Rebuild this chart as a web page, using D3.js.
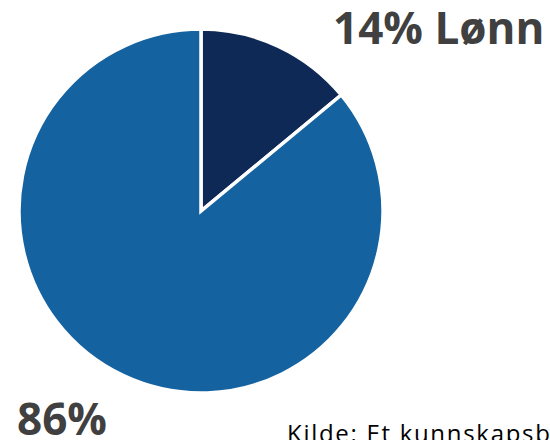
<!DOCTYPE html>
<html><head><meta charset="utf-8">
<script src="https://cdn.jsdelivr.net/npm/d3@7"></script>
<style>html,body{margin:0;padding:0;background:#fff;overflow:hidden}</style>
</head><body>
<svg id="c" width="550" height="440"></svg>
<script>
const categories = ["Lønn", "Annet"];
const values = [14, 86];
const labels = ["14% Lønn", "86%"];
const colors = ["#0f2956", "#1462a0"];
const source = "Kilde: Et kunnskapsbasert Norge";

const svg = d3.select("#c");
const cx = 201, cy = 211, r = 182;
const pie = d3.pie().sort(null).value(d => d)(values);
const arc = d3.arc().innerRadius(0).outerRadius(r);
const g = svg.append("g").attr("transform", `translate(${cx},${cy})`);
g.selectAll("path").data(pie).join("path")
  .attr("d", arc)
  .attr("fill", (d, i) => colors[i])
  .attr("stroke", "#fff").attr("stroke-width", 3.5).attr("stroke-linejoin", "miter");

const font = "'Open Sans', sans-serif";
svg.append("text").attr("x", 333).attr("y", 44)
  .attr("font-family", font).attr("font-weight", 700).attr("font-size", 44)
  .attr("fill", "#404040").text(labels[0]);
svg.append("text").attr("x", 17).attr("y", 435)
  .attr("font-family", font).attr("font-weight", 700).attr("font-size", 44)
  .attr("fill", "#404040").text(labels[1]);
svg.append("text").attr("x", 287).attr("y", 442)
  .attr("font-family", font).attr("font-size", 24).attr("letter-spacing", 1.7)
  .attr("fill", "#000").text(source);
</script>
</body></html>
